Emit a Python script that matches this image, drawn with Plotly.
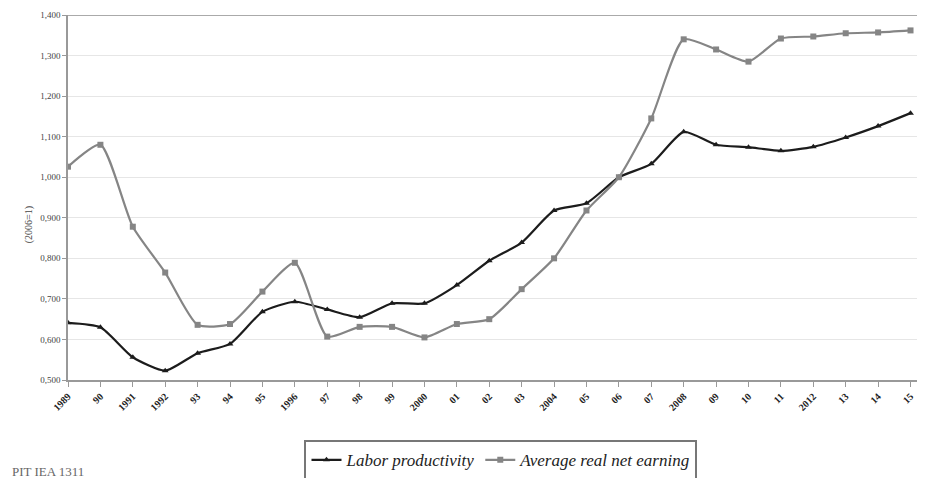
"""Labor productivity vs. average real net earning, 1989-2015 (2006 = 1)."""
import plotly.graph_objects as go

YEARS = list(range(1989, 2016))
YEAR_LABELS = ["1989", "90", "1991", "1992", "93", "94", "95", "1996", "97", "98",
               "99", "2000", "01", "02", "03", "2004", "05", "06", "07", "2008",
               "09", "10", "11", "2012", "13", "14", "15"]

LABOR_PRODUCTIVITY = [0.641, 0.630, 0.556, 0.523, 0.566, 0.589, 0.668, 0.693, 0.674,
                      0.655, 0.689, 0.689, 0.734, 0.794, 0.839, 0.918, 0.936, 1.000,
                      1.033, 1.112, 1.080, 1.074, 1.065, 1.075, 1.098, 1.126, 1.158]
REAL_NET_EARNING = [1.026, 1.080, 0.878, 0.765, 0.636, 0.638, 0.718, 0.789, 0.607,
                    0.631, 0.631, 0.605, 0.638, 0.650, 0.724, 0.800, 0.918, 1.000,
                    1.145, 1.340, 1.315, 1.285, 1.342, 1.347, 1.355, 1.357, 1.362]

Y_TICKS = [0.5, 0.6, 0.7, 0.8, 0.9, 1.0, 1.1, 1.2, 1.3, 1.4]

SERIF = "Liberation Serif, DejaVu Serif, serif"

fig = go.Figure()
fig.add_scatter(x=YEARS, y=LABOR_PRODUCTIVITY, name="Labor productivity",
                mode="lines+markers", line=dict(color="#1c1c1c", width=2.2,
                                                shape="spline", smoothing=0.6),
                marker=dict(symbol="triangle-up", size=6, color="#1c1c1c"))
fig.add_scatter(x=YEARS, y=REAL_NET_EARNING, name="Average real net earning",
                mode="lines+markers", line=dict(color="#858585", width=2.2,
                                                shape="spline", smoothing=0.6),
                marker=dict(symbol="square", size=6, color="#858585"))

fig.update_xaxes(range=[1989, 2015.2], tickmode="array", tickvals=YEARS,
                 ticktext=YEAR_LABELS, tickangle=-45, ticks="outside", ticklen=5,
                 tickcolor="#999", showgrid=False, showline=True, linecolor="#999",
                 linewidth=1.5, automargin=False, ticklabeloverflow="allow",
                 tickfont=dict(family=SERIF, size=10, color="#222", weight="bold"))
fig.update_yaxes(range=[0.5, 1.4], tickvals=Y_TICKS, tickformat=".3f",
                 ticks="outside", ticklen=4, tickcolor="#999", showgrid=True,
                 gridcolor="#e6e6e6", showline=True, linecolor="#999", linewidth=1.5,
                 zeroline=False, automargin=False,
                 tickfont=dict(family=SERIF, size=9, color="#444"))

fig.add_shape(type="line", xref="paper", yref="y", x0=0, x1=1, y0=1.4, y1=1.4,
              line=dict(color="#aaa", width=2))
fig.add_annotation(text="(2006=1)", textangle=-90, xref="paper", yref="paper",
                   x=-0.056, y=0.425, showarrow=False,
                   font=dict(family=SERIF, size=10, color="#444"))
fig.add_annotation(text="PIT IEA 1311", xref="paper", yref="paper", x=-0.068, y=-0.25,
                   xanchor="left", yanchor="middle", showarrow=False,
                   font=dict(family=SERIF, size=13, color="#666"))

# sized so the page (with the browser's 8px body margin) fits the window
fig.update_layout(
    width=909, height=470, separators=",.",
    margin=dict(l=60, r=0, t=7, b=98, autoexpand=False),
    paper_bgcolor="white", plot_bgcolor="white",
    showlegend=True,
    legend=dict(orientation="h", x=0.51, y=-0.165, xanchor="center", yanchor="top",
                bordercolor="#777", borderwidth=2, itemwidth=30,
                font=dict(family=SERIF, size=17, color="#222", style="italic")),
)

fig.write_html("out.html")
